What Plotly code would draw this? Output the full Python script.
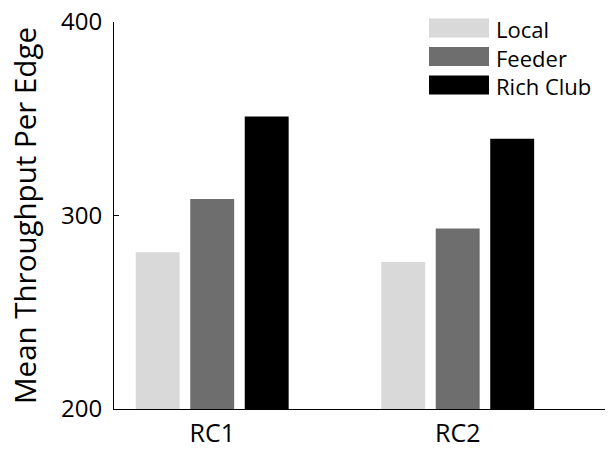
import plotly.graph_objects as go

# Data
categories = ["RC1", "RC2"]
series_names = ["Local", "Feeder", "Rich Club"]
local_vals = [281, 276]
feeder_vals = [308.5, 293.3]
rich_club_vals = [351.2, 339.7]
y_ticks = [200, 300, 400]

series_values = [local_vals, feeder_vals, rich_club_vals]
series_colors = ["#d9d9d9", "#6e6e6e", "#000000"]

FONT = "Open Sans"
W, H = 614, 450
M_L, M_R, M_T, M_B = 114, 9, 21.5, 41

fig = go.Figure()
x_pos = list(range(1, len(categories) + 1))
for name, vals, color in zip(series_names, series_values, series_colors):
    fig.add_trace(go.Bar(
        x=x_pos, y=vals, name=name,
        marker=dict(color=color, line=dict(width=0)),
        showlegend=False,
    ))

# Hand-drawn legend: wide swatches beside one multi-line label block
plot_w = W - M_L - M_R
plot_h = H - M_T - M_B
def px_x(px):
    return (px - M_L) / plot_w
def px_y(py):
    return (H - M_B - py) / plot_h

legend_font = 22
row_step = 1.3 * legend_font      # plotly's line spacing for multi-line text
mid_row_center = 56
sw_h = 19
n = len(series_names)
shapes = []
for i, color in enumerate(series_colors):
    c = mid_row_center + (i - (n - 1) / 2) * row_step
    shapes.append(dict(
        type="rect", xref="paper", yref="paper",
        x0=px_x(429), x1=px_x(489), y0=px_y(c + sw_h / 2), y1=px_y(c - sw_h / 2),
        fillcolor=color, line=dict(width=0), layer="above",
    ))
annotations = [dict(
    xref="paper", yref="paper", x=px_x(495), y=px_y(mid_row_center + 1),
    text="<br>".join(series_names), showarrow=False,
    xanchor="left", yanchor="middle", align="left", borderpad=0,
    font=dict(family=FONT, size=legend_font, color="#000000"),
)]

fig.update_layout(
    width=W, height=H,
    margin=dict(l=M_L, r=M_R, t=M_T, b=M_B, autoexpand=False),
    paper_bgcolor="white", plot_bgcolor="white",
    barmode="group", bargap=0.334, bargroupgap=0.194,
    shapes=shapes, annotations=annotations,
    font=dict(family=FONT, color="#000000"),
    xaxis=dict(
        range=[0.6, 2.6], tickvals=x_pos, ticktext=categories,
        showline=True, linecolor="#000000", linewidth=1,
        showgrid=False, zeroline=False, ticks="",
        tickfont=dict(family=FONT, size=25, color="#000000"),
        ticklabelstandoff=2,
    ),
    yaxis=dict(
        range=[200, 400], tickvals=y_ticks,
        showline=True, linecolor="#000000", linewidth=1,
        showgrid=False, zeroline=False,
        ticks="inside", ticklen=5, tickcolor="#000000", tickwidth=1,
        tickfont=dict(family=FONT, size=24, color="#000000"),
        ticklabelstandoff=6,
        title=dict(text="Mean Throughput Per Edge", standoff=15,
                   font=dict(family=FONT, size=29.5, color="#000000")),
    ),
)

fig.write_html("out.html")
